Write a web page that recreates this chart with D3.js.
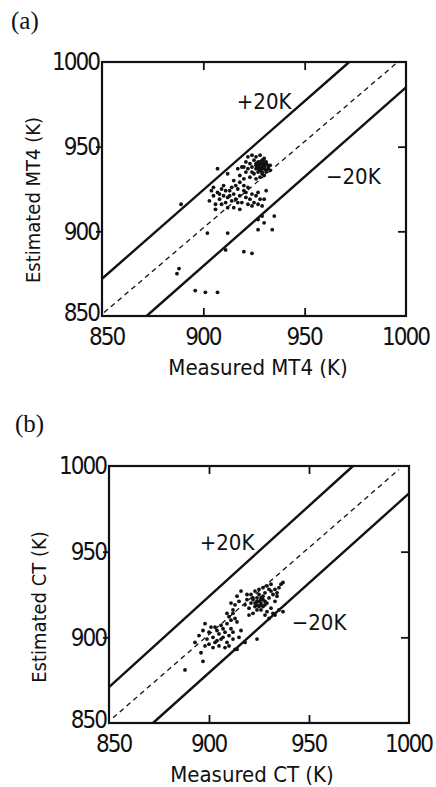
<!DOCTYPE html>
<html lang="en">
<head>
<meta charset="utf-8">
<title>Measured vs estimated temperature</title>
<script src="https://d3js.org/d3.v7.min.js"></script>
<style>
body { margin:0; background:#fff; }
svg { display:block; }
.tick text, .title, .band { font-family:"Liberation Sans Narrow","DejaVu Sans Condensed",sans-serif; font-stretch:condensed; fill:#111; }
.tick text { letter-spacing:-2px; }
.panel { font-family:"Liberation Serif","DejaVu Serif",serif; fill:#111; }
.domain { display:none; }
.frame { fill:none; stroke:#111; stroke-width:2.2; }
.guide { fill:none; stroke:#111; stroke-width:2.4; }
.diag { fill:none; stroke:#111; stroke-width:1.3; stroke-dasharray:5,4; }
.pt { fill:#111; }
</style>
</head>
<body>
<svg id="fig" width="436" height="787"></svg>
<script>
// axis ticks (K)
var tickVals = [850, 900, 950, 1000];

// (a) MT4, measured vs estimated
var mt4Measured = [922,924,926,928,930,921,923,925,927,929,931,933,920,922,924,926,928,930,932,927,929,931,925,933,926,928,930,932,929,924,921,919,917,918,930,928,926,923,
  927,928,929,930,931,927,928,929,930,931,926,928,930,932,929,
  912,915,918,920,916,922,
  904,905,903,906,908,907,909,910,911,912,913,914,915,916,917,918,919,920,921,922,923,924,925,926,927,928,929,930,931,927,924,918,914,909,906,912,910,905,915,920,913,917,911,908,921,
  889,907,902,912,911,920,924,888,887,896,901,907,927,930,927,935,934,929];
var mt4Estimated = [944,945,944,945,943,941,940,942,941,940,941,939,938,937,938,937,938,937,937,935,935,935,934,936,939,936,939,939,942,935,935,938,937,933,933,932,931,932,
  939,940,938,939,940,937,936,937,938,936,940,941,941,938,934,
  934,930,929,931,927,926,
  924,921,918,916,919,923,925,921,917,914,924,926,922,919,925,921,917,924,920,916,919,922,917,921,923,919,915,919,924,916,915,913,918,916,913,920,927,926,914,927,921,917,924,922,923,
  916,937,899,899,889,888,887,878,875,865,864,864,907,905,901,909,901,909];

// (b) CT, measured vs estimated
var ctMeasured = [888,897,896,893,895,897,898,899,900,901,902,903,904,905,906,907,908,909,910,911,912,905,908,902,910,913,912,906,909,911,913,914,915,904,900,907,903,898,914,918,924,916,
  909,910,912,913,915,911,914,916,912,
  918,919,920,921,922,923,924,925,926,927,928,929,930,931,932,933,934,935,936,937,921,923,925,927,929,931,926,928,930,929,931,932,933,935,937,927,924,922,920,919,933,934,930,926,928,
  923,924,925,926,927,922,924,926,928,925];
var ctEstimated = [881,886,891,897,901,904,908,899,903,906,900,897,904,902,899,905,903,897,901,905,899,895,894,894,895,893,903,907,908,910,911,909,900,898,896,900,906,895,893,897,899,904,
  914,912,916,919,921,920,924,927,914,
  919,922,917,920,923,918,921,925,919,922,926,920,923,927,925,928,926,929,931,932,925,927,928,929,930,931,916,913,911,915,917,914,913,916,915,918,916,914,913,925,921,924,928,923,921,
  920,919,921,920,924,922,923,922,919,918];

// +/-20K guide lines and 1:1 line, end points
var upperA = [[850, 872], [972, 1000]];
var lowerA = [[872, 850], [1000, 985]];
var diagA  = [[851, 852], [995, 999]];
var upperB = [[850, 871], [972, 1000]];
var lowerB = [[872, 850], [1000, 984]];
var diagB  = [[852, 853], [995, 998]];

var svg = d3.select("#fig");

function drawPanel(o){
  var x = d3.scaleLinear().domain([850, 1000]).range([o.left, o.right]);
  var y = d3.scaleLinear().domain([850, 1000]).range([o.bottom, o.top]);
  var g = svg.append("g");

  // bottom / left axes with labels
  g.append("g").attr("transform", "translate(0," + o.bottom + ")")
    .call(d3.axisBottom(x).tickValues(tickVals).tickSize(-8).tickPadding(12).tickFormat(d3.format("d")))
    .call(function(a){
      a.selectAll(".tick text").attr("font-size", 24).attr("dx", function(d){ return d == 850 ? 4 : -1; });
    });
  g.append("g").attr("transform", "translate(" + o.left + ",0)")
    .call(d3.axisLeft(y).tickValues(tickVals).tickSize(6).tickPadding(-3).tickFormat(d3.format("d")))
    .call(function(a){
      a.selectAll(".tick text").attr("font-size", 24).attr("y", function(d){ return d == 850 ? -3 : 0; });
    });
  // top / right inner ticks
  g.append("g").attr("transform", "translate(0," + o.top + ")")
    .call(d3.axisTop(x).tickValues([900, 950]).tickSize(-8).tickFormat(""));
  g.append("g").attr("transform", "translate(" + o.right + ",0)")
    .call(d3.axisRight(y).tickValues([900, 950]).tickSize(-8).tickFormat(""));
  g.selectAll(".tick line").attr("stroke", "#111").attr("stroke-width", 1.8);
  g.selectAll(".tick").filter(function(d){ return d == 850 || d == 1000; }).select("line").remove();

  g.append("rect").attr("class", "frame")
    .attr("x", o.left).attr("y", o.top).attr("width", o.right - o.left).attr("height", o.bottom - o.top);

  var line = d3.line().x(function(d){ return x(d[0]); }).y(function(d){ return y(d[1]); });
  g.append("path").attr("class", "guide").attr("d", line(o.upper));
  g.append("path").attr("class", "guide").attr("d", line(o.lower));
  g.append("path").attr("class", "diag").attr("d", line(o.diag));

  g.selectAll(".pt").data(o.meas).enter().append("circle").attr("class", "pt")
    .attr("cx", function(d){ return x(d); })
    .attr("cy", function(d, i){ return y(o.est[i]); })
    .attr("r", 1.9);

  g.append("text").attr("class", "band").attr("font-size", 22).attr("text-anchor", "middle")
    .attr("x", x(o.plusAt[0])).attr("y", y(o.plusAt[1])).text("+20K");
  g.append("text").attr("class", "band").attr("font-size", 22).attr("text-anchor", "middle")
    .attr("x", x(o.minusAt[0])).attr("y", y(o.minusAt[1])).text("\u221220K");

  g.append("text").attr("class", "title").attr("font-size", 22).attr("text-anchor", "middle")
    .attr("x", o.xtitle[0]).attr("y", o.xtitle[1]).text(o.xlab);
  g.append("text").attr("class", "title").attr("font-size", 20).attr("text-anchor", "middle")
    .attr("transform", "translate(" + o.ytitle[0] + "," + o.ytitle[1] + ") rotate(-90)").text(o.ylab);

  svg.append("text").attr("class", "panel").attr("font-size", 25)
    .attr("x", o.tag[0]).attr("y", o.tag[1]).text(o.tagText);
}

drawPanel({left:102, right:406, top:62, bottom:316, upper:upperA, lower:lowerA, diag:diagA,
  meas:mt4Measured, est:mt4Estimated, plusAt:[930, 972], minusAt:[974, 928],
  xlab:"Measured MT4 (K)", ylab:"Estimated MT4 (K)", xtitle:[258, 375], ytitle:[40, 200],
  tag:[11, 29], tagText:"(a)"});

drawPanel({left:109, right:409, top:466, bottom:723, upper:upperB, lower:lowerB, diag:diagB,
  meas:ctMeasured, est:ctEstimated, plusAt:[909, 951], minusAt:[955, 904],
  xlab:"Measured CT (K)", ylab:"Estimated CT (K)", xtitle:[252, 782], ytitle:[46, 607],
  tag:[15, 432], tagText:"(b)"});
</script>
</body>
</html>
